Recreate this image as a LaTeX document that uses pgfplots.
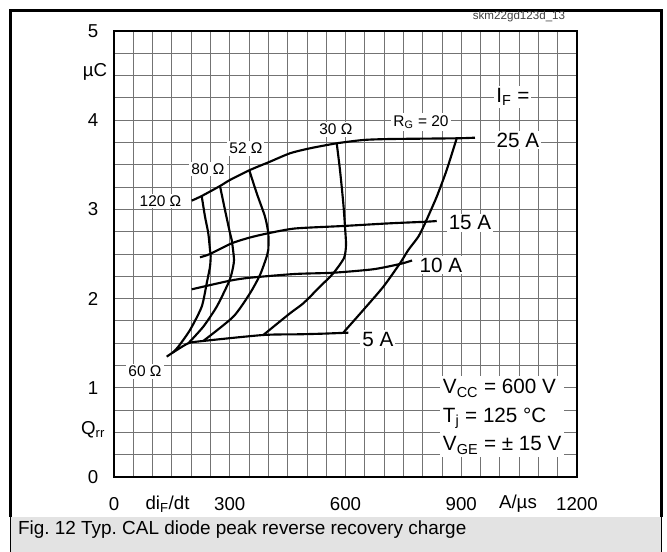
\documentclass[border=0pt]{standalone}
\usepackage{fontspec}
\setmainfont{Liberation Sans}
\usepackage{pgfplots}
\pgfplotsset{compat=1.18}
\frenchspacing
\begin{document}
\begin{tikzpicture}
\useasboundingbox (0,0) rectangle (500.25pt,414pt);
% caption band and frame
\fill[black!11] (8.25pt,0) rectangle (495.75pt,26.5pt);
\draw[line width=2.25pt] (7.9pt,26.5pt) |- (495.75pt,406.1pt) -- (495.75pt,26.5pt);
\draw[line width=0.75pt] (7.9pt,0) -- (7.9pt,26.5pt);
\draw[line width=0.75pt] (495.75pt,0) -- (495.75pt,26.5pt);
\node[anchor=base west,font=\fontsize{14.2}{16}\selectfont] at (10pt,12.75pt)
  {Fig. 12 Typ. CAL diode peak reverse recovery charge};
\node[font=\fontsize{8.7}{10}\selectfont,text=black!75] at (389.25pt,401.25pt) {skm22gd123d\_13};

\begin{axis}[
    at={(85.5pt,56.25pt)},anchor=south west,
    scale only axis,width=347.25pt,height=334.5pt,
    xmin=0,xmax=1200,ymin=0,ymax=5,
    xtick={0,300,...,1200},ytick={0,1,...,5},
    minor x tick num=5,minor y tick num=3,
    grid=both,
    grid style={black!55,line width=0.6pt},
    minor grid style={black!55,line width=0.6pt},
    major tick length=0pt,minor tick length=0pt,
    axis line style={line width=1.5pt},
    tick label style={font=\fontsize{14}{16}\selectfont},
    /pgf/number format/assume math mode=true,
    /pgf/number format/1000 sep={},
    scaled x ticks=false,
    xticklabel style={anchor=center,yshift=-20.25pt},
    yticklabel style={anchor=center,xshift=-15.75pt},
    clip=false,
    every axis plot post/.append style={black,solid,mark=none,line width=1.6pt,smooth,tension=0.4}
]
% I_F = 25 A
\addplot coordinates {(201.4,3.098)(227.3,3.150)(274.7,3.262)(300.6,3.330)(352.5,3.442)
  (404.3,3.535)(456.1,3.629)(508,3.685)(577.2,3.741)(646.1,3.778)(715.3,3.789)(888.2,3.797)(935.6,3.804)};
% I_F = 15 A
\addplot coordinates {(222.9,2.463)(248.8,2.500)(305.1,2.620)(352.5,2.685)(399.1,2.732)
  (469.1,2.786)(594.3,2.814)(715.3,2.844)(810.4,2.862)(836.4,2.870)};
% I_F = 10 A
\addplot coordinates {(201.4,2.104)(300.6,2.201)(352.5,2.234)(469.1,2.276)(568.4,2.290)
  (672.1,2.329)(741.3,2.388)(772.4,2.427)};
% I_F = 5 A
\addplot coordinates {(136.6,1.349)(152.1,1.394)(192.6,1.499)(231.4,1.525)(387,1.592)
  (482.1,1.600)(542.5,1.607)(607.3,1.618)};
% R_G = 120
\addplot coordinates {(227.3,3.150)(235.9,2.918)(244.4,2.732)(248.8,2.545)(250.6,2.478)
  (248.8,2.358)(240.3,2.172)(227.3,1.909)(197,1.648)(166.7,1.461)(152.1,1.394)};
% R_G = 80
\addplot coordinates {(274.7,3.262)(287.7,2.993)(300.6,2.735)(305.1,2.657)(311.0,2.433)
  (305.1,2.284)(296.2,2.172)(266.2,1.909)(231.4,1.685)(192.6,1.499)};
% R_G = 52
\addplot coordinates {(350.4,3.442)(369.9,3.181)(391.4,2.918)(399.9,2.732)(399.9,2.545)
  (395.8,2.470)(378.4,2.265)(352.5,2.060)(309.2,1.797)(231.4,1.525)};
% R_G = 30
\addplot coordinates {(577.2,3.741)(585.7,3.442)(594.3,3.068)(598.7,2.806)(601.3,2.601)
  (596.1,2.455)(568.4,2.284)(533.9,2.134)(490.6,1.947)(456.1,1.835)(387,1.592)};
% R_G = 20
\addplot coordinates {(888.2,3.797)(862.3,3.442)(836.4,3.142)(806.1,2.844)(788.7,2.694)
  (762.8,2.545)(741.3,2.396)(698,2.133)(646.1,1.872)(594.3,1.618)};

\begin{scope}[every node/.style={fill=white,inner sep=1.5pt}]
\node[font=\fontsize{11.6}{13}\selectfont] at (axis cs:120.5,3.094) {120 Ω};
\node[font=\fontsize{11.6}{13}\selectfont] at (axis cs:243.6,3.453) {80 Ω};
\node[font=\fontsize{11.6}{13}\selectfont] at (axis cs:342,3.688) {52 Ω};
\node[font=\fontsize{11.6}{13}\selectfont] at (axis cs:575,3.90) {30 Ω};
\node[font=\fontsize{11.6}{13}\selectfont] at (axis cs:795.7,3.979) {R\textsubscript{G} = 20};
\node[font=\fontsize{11.6}{13}\selectfont] at (axis cs:80.3,1.188) {60 Ω};
\node[font=\fontsize{15.5}{17}\selectfont] at (axis cs:1034,4.26) {I\textsubscript{F} =};
\node[font=\fontsize{15.5}{17}\selectfont] at (axis cs:1047,3.778) {25 A};
\node[font=\fontsize{15.5}{17}\selectfont] at (axis cs:922.7,2.848) {15 A};
\node[font=\fontsize{15.5}{17}\selectfont] at (axis cs:847.5,2.377) {10 A};
\node[font=\fontsize{15.5}{17}\selectfont] at (axis cs:684,1.547) {5 A};
\node[font=\fontsize{15.5}{21.4}\selectfont,anchor=west,align=left,inner sep=2pt] at (axis cs:845,0.676)
  {V\textsubscript{CC} = 600 V\\ T\textsubscript{j} = 125 °C\\ V\textsubscript{GE} = ± 15 V};
\end{scope}
\node[font=\fontsize{14}{16}\selectfont] at (axis cs:-49,4.54) {µC};
\node[font=\fontsize{14}{16}\selectfont] at (axis cs:-54,0.527) {Q\textsubscript{rr}};
\node[font=\fontsize{14}{16}\selectfont,yshift=-20.25pt] at (axis cs:138.7,0) {di\textsubscript{F}/dt};
\node[font=\fontsize{14}{16}\selectfont,yshift=-20.25pt] at (axis cs:1047,0) {A/µs};
\end{axis}
\end{tikzpicture}
\end{document}
